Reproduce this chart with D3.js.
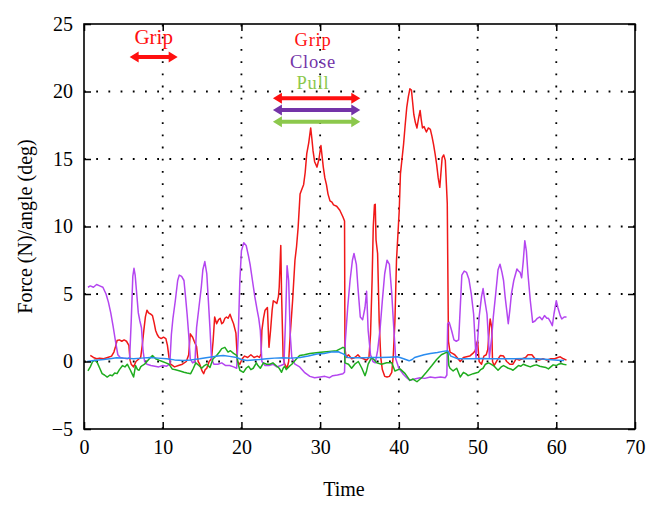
<!DOCTYPE html>
<html>
<head>
<meta charset="utf-8">
<script src="https://cdn.jsdelivr.net/npm/d3@7"></script>
<style>
  html, body { margin: 0; padding: 0; background: #fff; }
  svg { display: block; }
  text { font-family: "Liberation Serif", "Times New Roman", serif; }
</style>
</head>
<body>
<svg id="chart" width="662" height="509"></svg>
<script>
// ---------------- data ----------------
const xTicks = [0, 10, 20, 30, 40, 50, 60, 70];
const yTicks = [-5, 0, 5, 10, 15, 20, 25];
const xLabel = "Time";
const yLabel = "Force (N)/angle (deg)";

// red trace [time, value]
const redSeries = [[0.8,0.45],[1.2,0.3],[1.6,0.2],[2.0,0.25],[2.5,0.2],[3.0,0.3],[3.5,0.4],[3.8,0.7],[4.0,1.1],[4.2,1.55],[4.5,1.6],[4.8,1.5],[5.1,1.6],[5.4,1.5],[5.7,1.2],[5.85,0.1],[6.0,-0.2],[6.3,-0.4],[6.6,0.0],[7.0,0.2],[7.2,0.3],[7.4,1.2],[7.6,2.3],[7.8,3.3],[8.0,3.8],[8.2,3.6],[8.5,3.5],[8.7,3.4],[8.9,2.9],[9.1,2.3],[9.3,2.0],[9.5,1.8],[9.8,1.7],[10.1,1.8],[10.4,1.7],[10.6,1.2],[10.8,0.3],[11.0,-0.2],[11.5,-0.4],[12.0,-0.3],[12.5,-0.2],[13.0,0.0],[13.3,0.5],[13.5,2.05],[13.8,1.8],[14.0,1.5],[14.3,1.1],[14.5,0.0],[14.7,-0.2],[15.0,-0.7],[15.2,-0.9],[15.4,-0.6],[15.6,-0.5],[15.9,0.0],[16.2,0.2],[16.4,1.5],[16.6,3.3],[16.85,2.8],[17.1,3.1],[17.3,3.2],[17.5,2.8],[17.7,2.9],[17.9,3.2],[18.1,3.3],[18.3,3.2],[18.55,3.5],[18.8,3.1],[19.0,2.8],[19.3,2.1],[19.5,0.0],[19.8,-0.2],[20.1,0.2],[20.4,0.4],[20.8,0.3],[21.2,0.5],[21.6,0.3],[22.0,0.4],[22.3,0.3],[22.5,0.6],[22.6,2.3],[22.8,3.2],[23.0,3.8],[23.3,4.0],[23.5,1.05],[23.7,2.3],[23.9,3.8],[24.05,4.5],[24.3,4.4],[24.5,4.3],[24.7,4.8],[24.8,5.5],[25.0,8.6],[25.1,5.0],[25.3,0.3],[25.5,-0.2],[25.8,-0.5],[26.0,0.0],[26.2,2.0],[26.5,4.5],[26.8,7.5],[27.0,8.5],[27.2,9.9],[27.45,12.4],[27.7,12.8],[27.9,13.1],[28.1,14.0],[28.3,15.4],[28.55,16.2],[28.8,17.3],[28.95,16.5],[29.1,15.6],[29.3,14.8],[29.6,14.4],[29.85,15.0],[30.1,16.0],[30.25,15.2],[30.4,14.4],[30.6,13.6],[30.8,13.1],[31.0,12.4],[31.25,11.9],[31.5,11.8],[31.7,11.6],[32.1,11.5],[32.5,11.2],[32.9,10.7],[33.1,10.4],[33.15,1.0],[33.3,0.3],[33.6,0.5],[34.0,0.2],[34.4,0.3],[34.8,0.5],[35.1,0.3],[35.5,0.2],[35.9,0.1],[36.2,0.3],[36.4,2.0],[36.6,6.0],[36.75,10.0],[36.9,11.6],[37.0,11.65],[37.1,9.0],[37.3,8.0],[37.5,3.0],[37.7,0.3],[37.9,-0.6],[38.2,-1.1],[38.5,-1.15],[38.8,-1.1],[39.1,-0.8],[39.3,0.5],[39.5,3.0],[39.7,7.5],[40.05,11.2],[40.2,13.9],[40.4,15.0],[40.6,16.1],[40.8,17.5],[41.0,18.8],[41.2,19.6],[41.4,20.2],[41.6,20.1],[41.75,19.2],[41.9,18.3],[42.1,17.7],[42.3,17.3],[42.5,18.0],[42.7,18.6],[42.85,17.9],[43.0,17.3],[43.2,17.4],[43.5,17.0],[43.75,17.3],[44.0,17.2],[44.2,16.7],[44.4,16.1],[44.6,15.4],[44.8,14.6],[45.0,13.6],[45.2,12.9],[45.35,14.0],[45.5,15.1],[45.7,15.3],[45.9,14.9],[46.05,13.0],[46.15,11.7],[46.3,1.5],[46.5,0.7],[46.8,0.6],[47.1,0.5],[47.4,0.3],[47.8,0.0],[48.2,0.3],[48.6,0.35],[49.0,0.4],[49.4,0.6],[49.7,0.8],[50.0,1.55],[50.2,0.0],[50.5,-0.2],[50.8,0.4],[51.1,0.5],[51.3,0.9],[51.5,2.5],[51.6,3.15],[51.8,2.5],[51.9,0.0],[52.1,-0.3],[52.5,0.1],[52.9,0.45],[53.3,0.4],[53.7,0.0],[54.1,-0.2],[54.5,-0.2],[54.9,0.2],[55.3,0.1],[55.7,0.2],[56.1,0.3],[56.4,0.5],[56.9,0.5],[57.3,0.2],[57.8,0.1],[58.3,0.2],[58.8,0.1],[59.3,0.2],[59.8,0.2],[60.2,0.3],[60.5,0.35],[60.9,0.2],[61.3,0.1]];

// violet trace
const violetSeries = [[0.5,5.5],[0.8,5.6],[1.2,5.5],[1.6,5.7],[2.0,5.6],[2.4,5.5],[2.8,5.0],[3.1,4.4],[3.4,3.6],[3.7,2.6],[4.0,1.5],[4.3,0.5],[4.6,0.3],[5.0,0.25],[5.5,0.2],[5.8,0.3],[6.0,3.0],[6.2,6.3],[6.35,6.9],[6.5,6.4],[6.7,5.0],[6.9,3.6],[7.1,3.0],[7.3,2.5],[7.5,0.8],[7.7,0.0],[8.0,-0.2],[8.5,-0.3],[9.0,-0.35],[9.5,-0.4],[10.0,-0.3],[10.5,-0.35],[10.9,-0.2],[11.1,2.0],[11.3,3.2],[11.6,4.5],[11.9,6.0],[12.1,6.4],[12.4,6.3],[12.7,6.0],[12.9,4.8],[13.1,3.5],[13.3,2.0],[13.5,0.2],[13.8,-0.1],[14.1,0.0],[14.3,2.5],[14.6,4.0],[14.9,5.5],[15.1,6.8],[15.35,7.4],[15.6,6.5],[15.8,4.5],[16.0,2.5],[16.2,0.2],[16.5,-0.2],[17.0,-0.2],[17.5,-0.1],[18.0,-0.3],[18.5,-0.3],[19.0,-0.4],[19.4,-0.5],[19.6,2.0],[19.8,6.0],[20.0,8.2],[20.3,8.8],[20.6,8.6],[20.9,7.8],[21.1,7.2],[21.4,6.0],[21.7,4.8],[22.0,3.8],[22.2,3.2],[22.4,2.3],[22.6,0.0],[23.0,-0.3],[23.5,-0.3],[24.0,-0.2],[24.5,-0.4],[25.0,-0.3],[25.4,-0.2],[25.6,3.0],[25.8,7.1],[26.0,6.0],[26.2,2.0],[26.4,0.3],[26.8,-0.2],[27.4,-0.4],[28.0,-0.8],[28.7,-1.1],[29.3,-1.2],[30.0,-1.15],[30.6,-1.1],[31.2,-1.2],[31.6,-1.05],[32.2,-1.0],[32.9,-0.9],[33.1,-0.8],[33.2,1.5],[33.5,4.0],[33.8,6.0],[34.1,7.5],[34.3,8.0],[34.6,7.2],[34.8,5.5],[35.1,3.3],[35.4,3.1],[35.7,4.0],[35.9,5.2],[36.1,2.3],[36.4,0.5],[36.7,0.0],[37.0,-0.1],[37.3,0.8],[37.6,2.3],[37.9,4.5],[38.2,6.5],[38.5,7.5],[38.8,7.2],[39.1,5.0],[39.3,3.0],[39.6,0.2],[40.0,-0.5],[40.5,-0.9],[41.0,-1.2],[41.4,-1.4],[42.0,-1.3],[42.7,-1.2],[43.3,-1.25],[44.0,-1.15],[44.6,-1.2],[45.3,-1.15],[45.9,-1.2],[46.1,-1.0],[46.2,2.8],[46.4,2.9],[46.7,2.3],[47.0,1.6],[47.3,1.5],[47.6,1.6],[47.8,4.0],[48.0,6.4],[48.3,6.7],[48.6,6.6],[48.9,6.1],[49.2,5.0],[49.5,3.5],[49.8,0.3],[50.0,1.5],[50.2,3.3],[50.5,4.8],[50.7,5.4],[50.9,4.6],[51.2,3.5],[51.4,1.5],[51.5,0.3],[51.8,1.8],[52.0,3.3],[52.3,5.0],[52.6,6.8],[52.85,7.2],[53.1,6.6],[53.3,6.0],[53.5,4.8],[53.7,3.8],[53.9,2.8],[54.1,3.8],[54.3,5.0],[54.6,6.0],[55.0,6.85],[55.2,6.7],[55.4,6.6],[55.6,6.2],[55.8,7.4],[56.0,8.95],[56.2,8.2],[56.4,6.5],[56.7,4.5],[57.0,2.9],[57.3,3.0],[57.6,3.2],[57.9,3.3],[58.2,3.1],[58.5,3.4],[58.8,3.2],[59.0,3.2],[59.3,2.9],[59.5,2.65],[59.7,3.5],[60.0,4.5],[60.2,4.0],[60.3,3.8],[60.5,3.4],[60.7,3.15],[61.0,3.3],[61.3,3.3]];

// green trace
const greenSeries = [[0.5,-0.7],[0.8,-0.4],[1.1,0.0],[1.4,0.1],[1.7,-0.1],[2.0,-0.5],[2.3,-0.9],[2.6,-1.0],[2.95,-1.15],[3.3,-1.0],[3.6,-1.05],[3.9,-0.85],[4.2,-0.9],[4.5,-0.6],[4.9,-0.3],[5.2,-0.4],[5.5,-0.2],[5.9,-0.65],[6.1,-0.9],[6.3,-1.15],[6.55,-0.3],[6.8,-0.6],[7.0,-0.65],[7.2,-0.4],[7.4,-0.3],[7.7,-0.2],[8.0,0.0],[8.3,0.2],[8.7,0.45],[9.1,0.2],[9.5,0.1],[9.95,0.0],[10.4,-0.1],[10.8,-0.2],[11.2,-0.55],[11.5,-0.6],[11.85,-0.65],[12.2,-0.7],[12.7,-0.8],[13.1,-0.85],[13.55,-0.9],[13.9,-0.5],[14.2,-0.1],[14.6,-0.3],[14.95,-0.5],[15.3,-0.3],[15.6,-0.2],[16.0,-0.45],[16.4,0.2],[16.85,0.45],[17.2,0.7],[17.5,0.95],[17.9,1.05],[18.3,0.7],[18.6,0.8],[19.0,0.6],[19.4,0.45],[19.6,-0.2],[19.8,-0.65],[20.25,-0.8],[20.6,-0.5],[20.9,-0.35],[21.2,-0.6],[21.5,-0.5],[21.9,-0.1],[22.1,-0.3],[22.4,-0.5],[22.8,-0.1],[23.2,-0.2],[23.6,-0.2],[24.0,-0.1],[24.5,-0.35],[24.8,-0.5],[25.1,-0.8],[25.3,-0.5],[25.5,-0.35],[25.7,-0.6],[25.95,-0.45],[26.2,-0.3],[26.4,-0.2],[26.7,0.0],[27.0,0.2],[27.4,0.45],[28.0,0.5],[28.7,0.6],[29.5,0.65],[30.4,0.7],[31.2,0.75],[32.1,0.8],[32.6,0.95],[32.9,1.05],[33.1,1.0],[33.15,-0.1],[33.6,-0.2],[34.0,-0.5],[34.4,-0.2],[34.85,0.0],[35.3,-0.5],[35.7,-1.05],[35.9,-0.7],[36.1,-0.2],[36.55,0.3],[36.9,0.1],[37.2,-0.1],[37.8,-0.2],[38.45,-0.1],[39.1,-0.1],[39.5,-0.7],[40.15,-0.55],[40.8,-0.9],[41.4,-1.4],[41.8,-1.3],[42.3,-1.5],[42.9,-1.2],[43.5,-0.8],[44.2,-0.3],[44.8,0.15],[45.4,0.5],[46.1,0.7],[46.25,0.6],[46.35,-0.3],[46.5,-0.5],[46.9,-0.7],[47.35,-0.5],[47.8,-1.15],[48.2,-0.8],[48.5,-0.9],[48.8,-1.05],[49.45,-0.9],[50.1,-0.8],[50.4,-0.6],[50.7,-0.5],[51.0,-0.2],[51.4,-0.1],[51.7,-0.2],[52.0,-0.3],[52.2,-0.4],[52.6,-0.65],[53.0,-0.4],[53.3,-0.3],[53.6,-0.4],[53.9,-0.5],[54.2,-0.55],[54.5,-0.65],[54.9,-0.45],[55.2,-0.3],[55.5,-0.35],[55.8,-0.2],[56.2,-0.3],[56.7,-0.4],[57.1,-0.3],[57.5,-0.25],[57.9,-0.35],[58.35,-0.4],[58.7,-0.45],[59.0,-0.55],[59.3,-0.4],[59.6,-0.25],[60.0,-0.3],[60.3,-0.2],[60.6,-0.15],[60.9,-0.2],[61.3,-0.25]];

// blue trace
const blueSeries = [[0.4,0.0],[1.5,0.1],[2.5,0.15],[3.5,0.22],[4.15,0.27],[5.2,0.25],[6.3,0.2],[7.3,0.25],[8.4,0.3],[9.4,0.25],[10.5,0.2],[11.5,0.12],[12.6,0.07],[13.6,0.12],[14.7,0.2],[15.5,0.28],[16.4,0.35],[17.0,0.4],[17.7,0.45],[18.5,0.38],[19.4,0.3],[20.0,0.15],[20.7,0.07],[21.5,0.12],[22.3,0.15],[23.2,0.2],[24.2,0.25],[25.3,0.27],[26.3,0.25],[27.45,0.3],[28.5,0.4],[29.6,0.55],[30.5,0.6],[31.4,0.7],[32.3,0.72],[33.0,0.55],[33.5,0.3],[34.5,0.28],[35.6,0.27],[36.6,0.3],[37.7,0.3],[38.8,0.32],[39.85,0.35],[40.6,0.2],[41.3,0.05],[41.7,0.15],[42.0,0.3],[43.2,0.5],[44.0,0.6],[44.9,0.67],[45.6,0.75],[46.2,0.8],[46.6,0.4],[47.5,0.2],[48.3,0.2],[49.2,0.2],[50.5,0.22],[51.7,0.2],[53.0,0.2],[54.7,0.2],[56.2,0.22],[57.6,0.2],[59.0,0.15],[60.2,0.1],[61.0,0.07]];

// annotations: label, colour, text position (time, value)
const annoLabels = ["Grip", "Grip", "Close", "Pull"];
const annoTextT = [8.85, 29.1, 29.1, 29.1];
const annoTextV = [23.55, 23.35, 21.75, 20.15];
// double arrows: start time, end time, value
const arrowStart = [5.8, 24.0, 24.0, 24.0];
const arrowEnd = [11.9, 35.1, 35.1, 35.1];
const arrowV = [22.55, 19.5, 18.63, 17.76];
const annoColors = ["#ff1010", "#ff1010", "#7434a8", "#8cc84c"];

// ---------------- drawing ----------------
const svg = d3.select("#chart");
const L = 84, R = 635, T = 24, B = 429;
const x = d3.scaleLinear().domain([0, 70]).range([L, R]);
const y = d3.scaleLinear().domain([-5, 25]).range([B, T]);

svg.append("rect").attr("width", 662).attr("height", 509).attr("fill", "#fff");

// grid
const grid = svg.append("g").attr("stroke", "#000").attr("stroke-width", 1.8)
  .attr("stroke-dasharray", "1.8,10.4");
grid.selectAll(".gx").data(xTicks.filter(d => d > 0 && d < 70)).join("line")
  .attr("x1", d => x(d)).attr("x2", d => x(d)).attr("y1", B).attr("y2", T);
grid.selectAll(".gy").data(yTicks.filter(d => d > -5 && d < 25)).join("line")
  .attr("y1", d => y(d)).attr("y2", d => y(d)).attr("x1", L).attr("x2", R);

// traces
const line = d3.line().x(d => x(d[0])).y(d => y(d[1]));
const traces = [
  [redSeries, "#f01818"],
  [violetSeries, "#b446f0"],
  [greenSeries, "#1fac1f"],
  [blueSeries, "#2a8cf0"]
];
traces.forEach(([data, col]) => {
  svg.append("path").datum(data).attr("d", line)
    .attr("fill", "none").attr("stroke", col).attr("stroke-width", 1.5)
    .attr("stroke-linejoin", "round");
});

// axes
const fmt = d3.format("d");
const axB = svg.append("g").attr("transform", `translate(0,${B})`)
  .call(d3.axisBottom(x).tickValues(xTicks).tickFormat(fmt).tickSizeInner(-7).tickSizeOuter(0).tickPadding(11));
const axL = svg.append("g").attr("transform", `translate(${L},0)`)
  .call(d3.axisLeft(y).tickValues(yTicks).tickFormat(fmt).tickSizeInner(-7).tickSizeOuter(0).tickPadding(11));
const axT = svg.append("g").attr("transform", `translate(0,${T})`)
  .call(d3.axisTop(x).tickValues(xTicks).tickFormat("").tickSizeInner(-7).tickSizeOuter(0));
const axR = svg.append("g").attr("transform", `translate(${R},0)`)
  .call(d3.axisRight(y).tickValues(yTicks).tickFormat("").tickSizeInner(-7).tickSizeOuter(0));
[axB, axL, axT, axR].forEach(g => {
  g.select(".domain").remove();
  g.selectAll("line").attr("stroke", "#000").attr("stroke-width", 1.5);
  g.selectAll("text").attr("font-family", "Liberation Serif, serif").attr("font-size", 20).attr("fill", "#000");
});

// frame
svg.append("rect").attr("x", L).attr("y", T).attr("width", R - L).attr("height", B - T)
  .attr("fill", "none").attr("stroke", "#000").attr("stroke-width", 1.6);

// axis titles
svg.append("text").attr("x", 344).attr("y", 496).attr("text-anchor", "middle")
  .attr("font-size", 20).text(xLabel);
svg.append("text").attr("transform", `translate(32,${(T + B) / 2}) rotate(-90)`)
  .attr("text-anchor", "middle").attr("font-size", 20).text(yLabel);

// annotations
annoLabels.forEach((lab, i) => {
  svg.append("text").attr("x", x(annoTextT[i])).attr("y", y(annoTextV[i]))
    .attr("text-anchor", "middle").attr("font-size", i === 0 ? 21 : 18.5)
    .attr("letter-spacing", i === 0 ? 0 : 0.8)
    .attr("fill", annoColors[i]).text(lab);
});
arrowV.forEach((v, i) => {
  const x1 = x(arrowStart[i]), x2 = x(arrowEnd[i]), yy = y(v), col = annoColors[i];
  const hl = 9, hw = 5.5;
  svg.append("line").attr("x1", x1 + hl - 1).attr("x2", x2 - hl + 1).attr("y1", yy).attr("y2", yy)
    .attr("stroke", col).attr("stroke-width", 4);
  svg.append("path").attr("fill", col)
    .attr("d", `M${x1},${yy}L${x1 + hl},${yy - hw}L${x1 + hl},${yy + hw}Z M${x2},${yy}L${x2 - hl},${yy - hw}L${x2 - hl},${yy + hw}Z`);
});
</script>
</body>
</html>
